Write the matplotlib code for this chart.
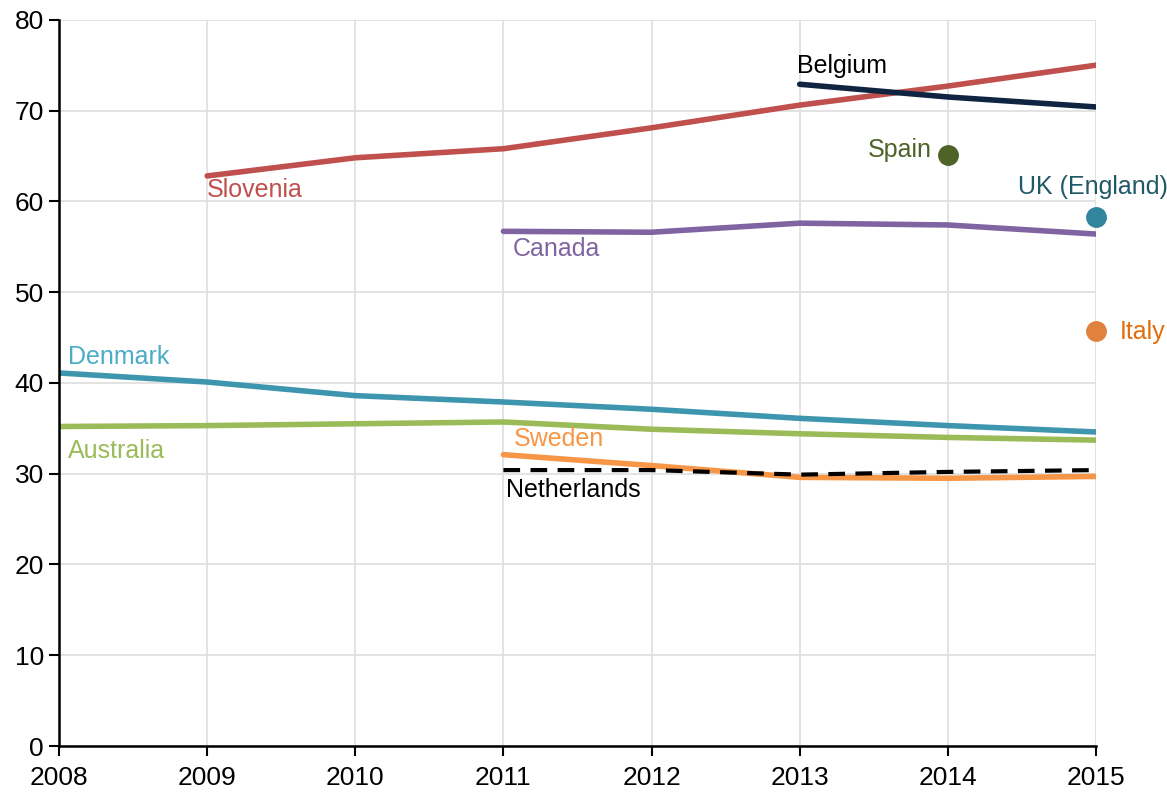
import matplotlib
matplotlib.use('Agg')
import matplotlib.pyplot as plt
from matplotlib import font_manager

years = [2008, 2009, 2010, 2011, 2012, 2013, 2014, 2015]

sloveniaYears = [2009, 2010, 2011, 2012, 2013, 2014, 2015]
slovenia = [62.8, 64.8, 65.8, 68.1, 70.6, 72.7, 75.0]
belgiumYears = [2013, 2014, 2015]
belgium = [72.9, 71.5, 70.4]
canadaYears = [2011, 2012, 2013, 2014, 2015]
canada = [56.7, 56.6, 57.6, 57.4, 56.4]
denmark = [41.1, 40.1, 38.6, 37.9, 37.1, 36.1, 35.3, 34.6]
australia = [35.2, 35.3, 35.5, 35.7, 34.9, 34.4, 34.0, 33.7]
swedenYears = [2011, 2012, 2013, 2014, 2015]
sweden = [32.1, 30.9, 29.6, 29.5, 29.7]
netherlandsYears = [2011, 2012, 2013, 2014, 2015]
netherlands = [30.4, 30.4, 29.9, 30.2, 30.4]
spain = (2014, 65.1)
ukEngland = (2015, 58.3)
italy = (2015, 45.7)

names = [f.name for f in font_manager.fontManager.ttflist]
family = ['Liberation Sans Narrow', 'Liberation Sans', 'DejaVu Sans']
family = [f for f in family if f in names] or ['DejaVu Sans']
plt.rcParams['font.family'] = family

fig = plt.figure(figsize=(11.67, 7.92), dpi=100)
ax = fig.add_axes([0.0506, 0.058, 0.8885, 0.917])

lw = 4.0
ax.plot(sloveniaYears, slovenia, color='#C0504D', lw=lw, solid_capstyle='round')
ax.plot(belgiumYears, belgium, color='#0F2440', lw=lw, solid_capstyle='round')
ax.plot(canadaYears, canada, color='#8064A2', lw=lw, solid_capstyle='round')
ax.plot(years, denmark, color='#3D96AE', lw=lw, solid_capstyle='round')
ax.plot(years, australia, color='#9BBB59', lw=lw, solid_capstyle='round')
ax.plot(swedenYears, sweden, color='#F79646', lw=lw, solid_capstyle='round')
ax.plot(netherlandsYears, netherlands, color='black', lw=3.0, dashes=(4, 2.5))
ax.plot(*spain, 'o', color='#4F6228', ms=14, clip_on=False)
ax.plot(*ukEngland, 'o', color='#31859C', ms=14, clip_on=False)
ax.plot(*italy, 'o', color='#E0823D', ms=14, clip_on=False)

fs = 18
ax.text(2009, 61.2, 'Slovenia', color='#C0504D', fontsize=fs, va='center', ha='left')
ax.text(2012.98, 74.9, 'Belgium', color='black', fontsize=fs, va='center', ha='left')
ax.text(2013.89, 65.7, 'Spain', color='#4F6228', fontsize=fs, va='center', ha='right')
ax.text(2014.98, 61.6, 'UK (England)', color='#215968', fontsize=fs, va='center', ha='center')
ax.text(2011.06, 54.7, 'Canada', color='#8064A2', fontsize=fs, va='center', ha='left')
ax.text(2015.16, 45.6, 'Italy', color='#E46C0A', fontsize=fs, va='center', ha='left')
ax.text(2008.06, 42.9, 'Denmark', color='#4BACC6', fontsize=fs, va='center', ha='left')
ax.text(2008.06, 32.5, 'Australia', color='#9BBB59', fontsize=fs, va='center', ha='left')
ax.text(2011.07, 33.8, 'Sweden', color='#F79646', fontsize=fs, va='center', ha='left')
ax.text(2011.02, 28.2, 'Netherlands', color='black', fontsize=fs, va='center', ha='left')

ax.set_xlim(2008, 2015)
ax.set_ylim(0, 80)
ax.set_xticks(years)
ax.set_yticks(range(0, 81, 10))
ax.grid(True, color='#E0E0E0', lw=1.3)
ax.set_axisbelow(True)
for side in ['top', 'right']:
	ax.spines[side].set_visible(False)
for side in ['left', 'bottom']:
	ax.spines[side].set_linewidth(1.8)
ax.tick_params(axis='both', labelsize=19, length=7, width=1.5, direction='out')
ax.tick_params(axis='x', pad=7)
ax.tick_params(axis='y', pad=4)

fig.savefig('out.png', dpi=100)
